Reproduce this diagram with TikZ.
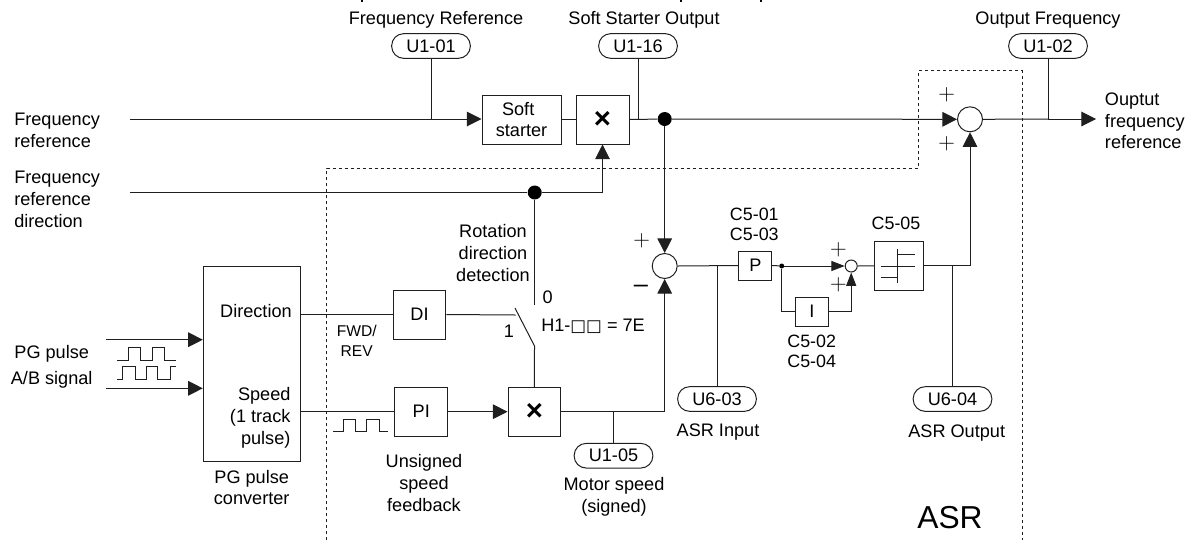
\documentclass[tikz,border=0pt]{standalone}
\usepackage{fontspec}
\setmainfont{Liberation Sans}
\newfontfamily\symfont{DejaVu Sans}
\usetikzlibrary{arrows.meta}
\definecolor{ink}{gray}{0.12}
\tikzset{
  wire/.style={draw=ink,line width=0.75pt},
  arr/.style={wire,-{Triangle[length=11pt,width=11pt]}},
  arrs/.style={wire,-{Triangle[length=10pt,width=7.5pt]}},
  blockbox/.style 2 args={draw=ink,line width=0.75pt,inner sep=0pt,align=center,minimum width=#1*0.75pt,minimum height=#2*0.75pt,font=\fontsize{13.6}{16.3}\selectfont},
  pill/.style={draw=ink,line width=0.75pt,rounded corners=9pt,inner sep=0pt,minimum width=59pt,minimum height=18.5pt,font=\fontsize{13.6}{16.3}\selectfont},
  sumring/.style={draw=ink,line width=0.75pt,circle,inner sep=0pt,minimum size=#1*0.75pt},
  lbl/.style={inner sep=0pt,font=\fontsize{13.6}{16.3}\selectfont,align=center},
  lbll/.style={lbl,align=left},
  lblr/.style={lbl,align=right},
  plusm/.style={inner sep=0pt,font=\fontsize{18}{18}\selectfont},
  minusm/.style={inner sep=0pt,font=\fontsize{19}{20}\selectfont},
  mult/.style={font=\fontsize{22}{22}\selectfont\bfseries},
  boundary/.style={draw=ink,line width=0.75pt,dash pattern=on 2.25pt off 2.25pt},
  pulse/.style={draw=ink,line width=0.7pt},
  jdot/.style={fill=black,circle,inner sep=0pt,minimum size=#1*0.75pt}
}
\begin{document}
\begin{tikzpicture}[x=0.75pt,y=-0.75pt]
\useasboundingbox (0,0) rectangle (1187,540);
% clipped marks on the top edge
\fill[black] (360.7,0) rectangle (362.7,2);
\fill[black] (679.7,0) rectangle (681.7,2);
\fill[black] (759.7,0) rectangle (761.7,2);
% ASR boundary
\coordinate (ba) at (326.7,540);
\coordinate (bb) at (326.7,168);
\coordinate (bc) at (918.3,168);
\coordinate (bd) at (918.3,70.7);
\coordinate (be) at (1022.3,70.7);
\coordinate (bf) at (1022.3,540);
\draw[boundary] (ba) -- (bb) -- (bc) -- (bd) -- (be) -- (bf);
% blocks
\node[blockbox={79}{49}] (soft) at (521.5,119.5) {Soft\kern 5pt\\starter};
\node[blockbox={53}{49},mult] (mulA) at (602.5,119.5) {×};
\node[blockbox={97.4}{195}] (pg) at (252,363.5) {};
\node[blockbox={52.7}{49}] (di) at (419.5,314.5) {DI};
\node[blockbox={52.7}{49}] (pi) at (421.3,411.7) {PI};
\node[blockbox={52.7}{48.7},mult] (mulB) at (534.4,411.7) {×};
\node[blockbox={32.7}{29}] (pb) at (755.3,265.5) {P};
\node[blockbox={32.7}{28.7}] (ib) at (812,311.7) {I};
\node[blockbox={49}{49}] (lim) at (898.8,265.8) {};
% summing points
\node[sumring=25] (sumA) at (664.7,266) {};
\node[sumring=12] (sumB) at (851.2,266) {};
\node[sumring=25] (sumC) at (970,119.3) {};
% monitors
\node[pill] (u101) at (431,46) {U1-01};
\node[pill] (u116) at (638,46) {U1-16};
\node[pill] (u102) at (1048,46) {U1-02};
\node[pill] (u105) at (613.5,455.7) {U1-05};
\node[pill] (u603) at (717,399) {U6-03};
\node[pill] (u604) at (952.5,399) {U6-04};
% junctions
\coordinate (inF) at (130,119);
\coordinate (inD) at (130,192.5);
\coordinate (inA) at (106,339.7);
\coordinate (inB) at (106,388.3);
\coordinate (outF) at (1096,119);
\node[jdot=14] (dotA) at (664.7,119) {};
\node[jdot=14] (dotB) at (534.7,192.5) {};
\node[jdot=5] (dotC) at (781.7,266) {};
\coordinate (jU101) at (431,119);
\coordinate (jU116) at (638,119);
\coordinate (jU102) at (1048,119);
\coordinate (jU105) at (613.5,412);
\coordinate (jU603) at (717,266);
\coordinate (jU604) at (952.5,266);
\coordinate (swTop) at (534.7,305);
\coordinate (swL) at (515,308);
\coordinate (swLb) at (515.7,315);
\coordinate (swBot) at (534.5,346);
% connectors
\draw[arr] (inF) -- (inF-|soft.west);
\draw[wire] (soft.east) -- (mulA.west);
\draw[wire] (mulA.east) -- (dotA);
\draw[arr] (dotA) -- (sumC.west);
\draw[wire] (sumC.east) -- (jU102);
\draw[arr] (jU102) -- (outF);
\draw[wire] (u101.south) -- (jU101);
\draw[wire] (u116.south) -- (jU116);
\draw[wire] (u102.south) -- (jU102);
\draw[wire] (inD) -- (dotB);
\draw[arr] (dotB) -| (mulA.south);
\draw[wire] (dotB) -- (swTop);
\draw[arr] (dotA) -- (sumA.north);
\draw[arr] (mulB.east) -| (sumA.south);
\draw[wire] (sumA.east) -- (pb.west);
\draw[wire] (pb.east) -- (dotC);
\draw[arrs] (dotC) -- (sumB.west);
\draw[wire] (dotC) |- (ib.west);
\draw[arrs] (ib.east) -| (sumB.south);
\draw[wire] (sumB.east) -- (lim.west);
\draw[arr] (lim.east) -| (sumC.south);
\draw[wire] (jU105) -- (u105.north);
\draw[wire] (jU603) -- (u603.north);
\draw[wire] (jU604) -- (u604.north);
\draw[arr] (inA) -- (inA-|pg.west);
\draw[arr] (inB) -- (inB-|pg.west);
\draw[wire] (pg.east|-di.west) -- (di.west);
\draw[wire] (pg.east|-pi.west) -- (pi.west);
\draw[arr] (pi.east) -- (mulB.west);
\draw[wire] (di.east) -- (swLb);
\draw[wire] (swL) -- (swBot) -- (mulB.north);
% limiter glyph
\draw[pulse] (881,266) -- (915,266);
\draw[pulse] (897.7,249) -- (897.7,283);
\draw[pulse] (897.7,254.3) -- (915,254.3);
\draw[pulse] (881,277.7) -- (897.7,277.7);
% pulses
\draw[pulse] (117.3,360.7) -- (128.3,360.7) -- (128.3,347.7) -- (140.7,347.7) -- (140.7,360.7) -- (152.3,360.7) -- (152.3,347.7) -- (164.3,347.7) -- (164.3,360.7) -- (175.7,360.7);
\draw[pulse] (117.3,379.3) -- (122.3,379.3) -- (122.3,366.7) -- (135,366.7) -- (135,379.3) -- (146,379.3) -- (146,366.7) -- (157.7,366.7) -- (157.7,379.3) -- (170,379.3) -- (170,366.7) -- (175.7,366.7);
\draw[pulse] (333.3,431) -- (343.3,431) -- (343.3,419.3) -- (355.7,419.3) -- (355.7,431) -- (366.7,431) -- (366.7,419.3) -- (379,419.3) -- (379,431) -- (388.3,431);
% labels
\node[lbl] (tA) at (436,20) {Frequency Reference};
\node[lbl] (tB) at (644,20) {Soft Starter Output};
\node[lbl] (tC) at (1048,20) {Output Frequency};
\node[lbll,anchor=west] (tD) at (14,130) {Frequency\\reference};
\node[lbll,anchor=west] (tE) at (14,199.5) {Frequency\\reference\\direction};
\node[lbll,anchor=west] (tF) at (1104.7,121) {Ouptut\\frequency\\reference};
\node[lbl] (tG) at (51.7,366.5) {PG pulse\\[3pt]A/B signal};
\node[lblr,anchor=east] (tH) at (292,311) {Direction};
\node[lblr,anchor=east] (tI) at (290.7,418) {Speed\\(1 track\\pulse)};
\node[lbl] (tJ) at (251.7,487.5) {PG pulse\\converter};
\node[lbl,font=\fontsize{11.7}{14.8}\selectfont] (tK) at (356.7,341) {FWD/\\REV};
\node[lbl] (tL) at (493,253) {Rotation\\direction\\detection};
\node[lbl] (tM) at (547.7,297) {0};
\node[lbl] (tN) at (509,331) {1};
\node[lbl,anchor=west] (tO) at (541,326) {H1-{\symfont\fontsize{12.5}{16}\selectfont □□} = 7E};
\node[lbl,font=\fontsize{13.4}{14.8}\selectfont] (tP) at (754.3,224.5) {C5-01\\C5-03};
\node[lbl,font=\fontsize{13.4}{14.8}\selectfont] (tQ) at (811.7,351.7) {C5-02\\C5-04};
\node[lbl,font=\fontsize{13.4}{14.8}\selectfont] (tR) at (896,223) {C5-05};
\node[lbl] (tS) at (718,432) {ASR Input};
\node[lbl] (tT) at (956.7,432.7) {ASR Output};
\node[lbl] (tU) at (614,496.5) {Motor speed\\(signed)};
\node[lbl] (tV) at (424,483) {Unsigned\\speed\\feedback};
\node[inner sep=0pt,font=\fontsize{23.8}{26}\selectfont] (tW) at (950,518) {ASR};
% signs
\node[plusm] (pA) at (641.7,241) {$+$};
\node[minusm] (mA) at (641,288.7) {–};
\node[plusm] (pB) at (946.7,94.3) {$+$};
\node[plusm] (pC) at (946.7,143.3) {$+$};
\node[plusm] (pD) at (838.3,250) {$+$};
\node[plusm] (pE) at (838.3,284.3) {$+$};
\end{tikzpicture}
\end{document}
